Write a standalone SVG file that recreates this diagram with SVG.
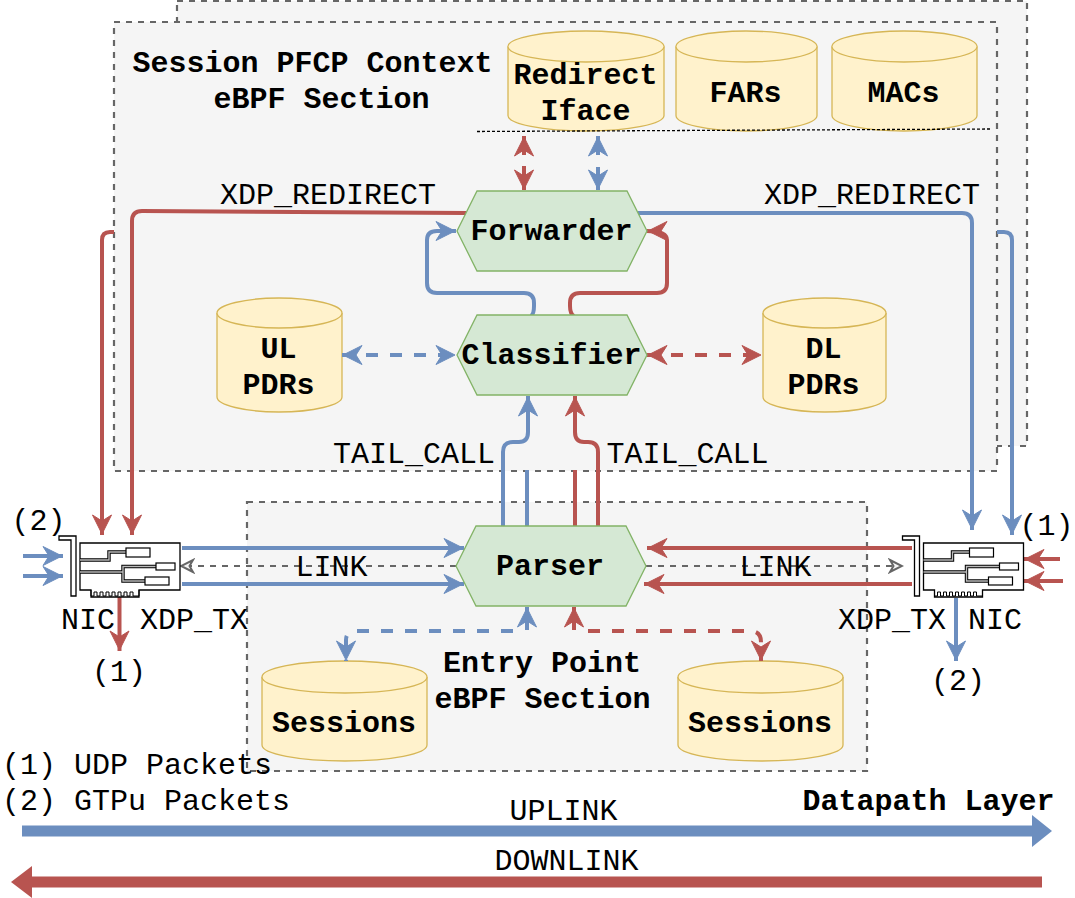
<svg xmlns="http://www.w3.org/2000/svg" width="1075" height="898" viewBox="0 0 1075 898">
<style>
text{font-family:"Liberation Mono",monospace;font-size:30px;fill:#000;text-anchor:middle}
.b{font-weight:bold}
.l{text-anchor:start}
.sec{fill:#f5f5f5;stroke:#666;stroke-width:2.200;stroke-dasharray:6 6}
.hex{fill:#d5e8d4;stroke:#82b366;stroke-width:1.300}
.cyl{fill:#fff2cc;stroke:#d6b656;stroke-width:1.300}
.c{fill:none;stroke-width:4;stroke-linejoin:round}
.bl{stroke:#6c8ebf}.rd{stroke:#b85450}
.d{stroke-dasharray:12 12}
.nic{fill:#fff;stroke:#000;stroke-width:1.300}
.pad{fill:#fff;stroke:#000;stroke-width:1.200}
.tk{fill:none;stroke:#000;stroke-width:3.400}
.tc{fill:none;stroke:#bbb;stroke-width:1.400}
</style>
<defs>
<marker id="ab" markerUnits="userSpaceOnUse" markerWidth="26" markerHeight="26" refX="21" refY="13" orient="auto-start-reverse"><path d="M1 3.500 L20 13 L1 22.500 L7 13Z" fill="#6c8ebf" stroke="#6c8ebf" stroke-width="1"/></marker>
<marker id="ar" markerUnits="userSpaceOnUse" markerWidth="26" markerHeight="26" refX="21" refY="13" orient="auto-start-reverse"><path d="M1 3.500 L20 13 L1 22.500 L7 13Z" fill="#b85450" stroke="#b85450" stroke-width="1"/></marker>
<marker id="ag" markerUnits="userSpaceOnUse" markerWidth="16" markerHeight="16" refX="14" refY="8" orient="auto-start-reverse"><path d="M2 2 L14 8 L2 14 L5.500 8Z" fill="#f5f5f5" stroke="#666" stroke-width="2"/></marker>
<g id="card">
<path class="nic" d="M-21 -7H-4V53H-9V-3H-21Z"/>
<path class="nic" d="M0 0H100V47H59V54H11V47H0Z"/>
<path d="M11 47V53H14V49H17V53H20V49H23V53H26V49H29V53H32V49H35V53H38V49H41V53H44V49H47V53H50V49H53V53H59V47" fill="none" stroke="#000" stroke-width="1"/>
<path class="tk" d="M0 17H29V9H46M0 29H43M76 23.500H43V38H65"/>
<path class="tc" d="M0 17H29V9H46M0 29H43M76 23.500H43V38H65"/>
<rect class="pad" x="46" y="5" width="24" height="9"/>
<rect class="pad" x="76" y="20" width="19" height="7"/>
<rect class="pad" x="65" y="34" width="24" height="8"/>
</g>
</defs>

<g id="bg-section">
<rect class="sec" x="177" y="1" width="850" height="445"/>
</g>
<g id="session-section">
<rect class="sec" x="114" y="22" width="883" height="449"/>
<text class="b" x="312.500" y="72">Session PFCP Context</text>
<text class="b" x="321.500" y="108">eBPF Section</text>
</g>
<g id="entry-section">
<rect class="sec" x="247" y="502" width="620" height="269"/>
<text class="b" x="542" y="672">Entry Point</text>
<text class="b" x="542.500" y="708">eBPF Section</text>
</g>

<g id="redirect-iface">
<path class="cyl" d="M508 46.500C508 38 543 31 586 31S664 38 664 46.500V115.500C664 124 629 131 586 131S508 124 508 115.500Z"/>
<path class="cyl" d="M508 46.500C508 55 543 62 586 62S664 55 664 46.500"/>
<text class="b" x="585.500" y="84">Redirect</text><text class="b" x="585.500" y="120">Iface</text>
</g>
<g id="fars">
<path class="cyl" d="M676 46.500C676 38 708 31 746 31S817 38 817 46.500V115.500C817 124 785 131 746 131S676 124 676 115.500Z"/>
<path class="cyl" d="M676 46.500C676 55 708 62 746 62S817 55 817 46.500"/>
<text class="b" x="745.500" y="102">FARs</text>
</g>
<g id="macs">
<path class="cyl" d="M832 46.500C832 38 864 31 904 31S977 38 977 46.500V115.500C977 124 944 131 904 131S832 124 832 115.500Z"/>
<path class="cyl" d="M832 46.500C832 55 864 62 904 62S977 55 977 46.500"/>
<text class="b" x="903.500" y="102">MACs</text>
</g>
<path id="divider" d="M477 131.500L990 129" stroke="#000" stroke-width="1.300" stroke-dasharray="3 2" fill="none"/>

<g id="ul-pdrs">
<path class="cyl" d="M217 313C217 305 245 298 279 298S342 305 342 313V397C342 405 313 412 279 412S217 405 217 397Z"/>
<path class="cyl" d="M217 313C217 321 245 328 279 328S342 321 342 313"/>
<text class="b" x="278.500" y="358">UL</text><text class="b" x="278.500" y="394">PDRs</text>
</g>
<g id="dl-pdrs">
<path class="cyl" d="M763 313C763 305 791 298 825 298S886 305 886 313V397C886 405 859 412 825 412S763 405 763 397Z"/>
<path class="cyl" d="M763 313C763 321 791 328 825 328S886 321 886 313"/>
<text class="b" x="823.500" y="358">DL</text><text class="b" x="823.500" y="394">PDRs</text>
</g>
<g id="sessions-left">
<path class="cyl" d="M262 677C262 668 299 661 345 661S427 668 427 677V745C427 754 391 761 345 761S262 754 262 745Z"/>
<path class="cyl" d="M262 677C262 686 299 693 345 693S427 686 427 677"/>
<text class="b" x="344" y="732">Sessions</text>
</g>
<g id="sessions-right">
<path class="cyl" d="M678 677C678 668 715 661 761 661S843 668 843 677V745C843 754 807 761 761 761S678 754 678 745Z"/>
<path class="cyl" d="M678 677C678 686 715 693 761 693S843 686 843 677"/>
<text class="b" x="760" y="732">Sessions</text>
</g>

<g id="connectors">
<path class="c rd" marker-start="url(#ar)" d="M524 136V155"/>
<path class="c rd" marker-end="url(#ar)" d="M524 166V190"/>
<path class="c bl" marker-start="url(#ab)" d="M598 136V155"/>
<path class="c bl" marker-end="url(#ab)" d="M598 167V190"/>
<path class="c rd" marker-end="url(#ar)" d="M466 213L142 211Q132 211 132 221V535"/>
<path class="c bl" marker-end="url(#ab)" d="M638 213H962Q972 213 972 223V530"/>
<path class="c rd" marker-end="url(#ar)" d="M114 232H110Q102 232 102 240V535"/>
<path class="c bl" marker-end="url(#ab)" d="M997 232H1004Q1012 232 1012 240V535"/>
<path class="c bl" marker-end="url(#ab)" d="M531 316Q534 314 534 306V303Q534 293 524 293H437Q427 293 427 283V240Q427 231 437 231H456"/>
<path class="c rd" marker-end="url(#ar)" d="M574 316Q570 314 570 306V303Q570 293 580 293H657Q667 293 667 283V240Q667 231 647 231"/>
<path class="c bl d" marker-start="url(#ab)" marker-end="url(#ab)" d="M342 355H456"/>
<path class="c rd d" marker-start="url(#ar)" marker-end="url(#ar)" d="M647 355H762"/>
<path class="c bl" marker-end="url(#ab)" d="M503 526V452Q503 442 513 442H519Q528 442 528 432V396"/>
<path class="c bl" d="M527 526V470"/>
<path class="c rd" d="M575 526V470"/>
<path class="c rd" marker-end="url(#ar)" d="M598 526V452Q598 442 588 442H584Q575 442 575 432V396"/>
<path class="c bl" marker-end="url(#ab)" d="M182 548H464"/>
<path class="c bl" marker-end="url(#ab)" d="M182 584H464"/>
<path class="c rd" marker-end="url(#ar)" d="M912 548H647"/>
<path class="c rd" marker-end="url(#ar)" d="M912 584H644"/>
<path d="M456 566H181" fill="none" stroke="#666" stroke-width="2" stroke-dasharray="6 6" marker-end="url(#ag)"/>
<path d="M646 566H902" fill="none" stroke="#666" stroke-width="2" stroke-dasharray="6 6" marker-end="url(#ag)"/>
<path class="c bl" marker-end="url(#ab)" d="M23 556H63"/>
<path class="c bl" marker-end="url(#ab)" d="M23 576H63"/>
<path class="c rd" marker-end="url(#ar)" d="M1060 559H1024"/>
<path class="c rd" marker-end="url(#ar)" d="M1063 581H1024"/>
<path class="c rd" marker-end="url(#ar)" d="M119.500 596V651"/>
<path class="c bl" marker-end="url(#ab)" d="M956 598V661"/>
<path class="c bl d" marker-end="url(#ab)" d="M513 631H357Q346 631 346 640V661"/>
<path class="c bl" marker-start="url(#ab)" d="M527 607V630"/>
<path class="c rd d" marker-end="url(#ar)" d="M588 631H750Q761 631 761 642V661"/>
<path class="c rd" marker-start="url(#ar)" d="M574 607V630"/>
<path d="M22 831H1034" stroke="#6c8ebf" stroke-width="11" fill="none"/>
<path d="M1052 831L1032 815V847Z" fill="#6c8ebf"/>
<path d="M1042 882H30" stroke="#b85450" stroke-width="11" fill="none"/>
<path d="M11 882L32 866V898Z" fill="#b85450"/>
</g>

<g id="forwarder">
<polygon class="hex" points="477,191 627,191 647,231 627,271 477,271 457,231"/>
<text class="b" x="551.500" y="240">Forwarder</text>
</g>
<g id="classifier">
<polygon class="hex" points="477,315 627,315 647,355 627,395 477,395 457,355"/>
<text class="b" x="551.500" y="364">Classifier</text>
</g>
<g id="parser">
<polygon class="hex" points="476,526 626,526 646,566 626,606 476,606 456,566"/>
<text class="b" x="550" y="575">Parser</text>
</g>

<g id="nic-left"><use href="#card" x="80" y="543"/></g>
<g id="nic-right"><use href="#card" x="923.500" y="543"/></g>

<g id="labels">
<text x="328" y="204">XDP_REDIRECT</text>
<text x="872" y="204">XDP_REDIRECT</text>
<text x="414" y="463">TAIL_CALL</text>
<text x="687.500" y="463">TAIL_CALL</text>
<text x="331.500" y="576">LINK</text>
<text x="775.500" y="576">LINK</text>
<text x="38.500" y="530">(2)</text>
<text x="1046.500" y="535">(1)</text>
<text x="88" y="629">NIC</text>
<text x="194" y="629">XDP_TX</text>
<text x="892" y="629">XDP_TX</text>
<text x="995" y="629">NIC</text>
<text x="119" y="681">(1)</text>
<text x="958" y="690">(2)</text>
<text class="l" x="2" y="774">(1) UDP Packets</text>
<text class="l" x="2" y="810">(2) GTPu Packets</text>
<text x="563.500" y="820">UPLINK</text>
<text x="566.500" y="870">DOWNLINK</text>
<text class="b" x="928.500" y="810">Datapath Layer</text>
</g>
</svg>
